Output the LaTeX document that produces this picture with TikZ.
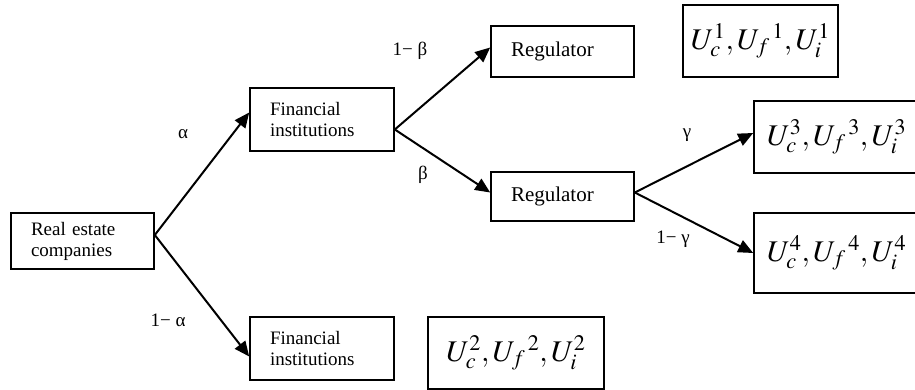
\documentclass[tikz,border=0pt]{standalone}
\usepackage{mathptmx}
\usepackage{fontspec}
\setmainfont{Liberation Serif}
\usetikzlibrary{arrows.meta}
\begin{document}
\begin{tikzpicture}[x=1pt,y=-1pt]
\tikzstyle{box} = [draw, line width=1.6pt, inner ysep=0pt, align=left];
\tikzstyle{player} = [box, inner xsep=20pt, font=\fontsize{19}{21}\selectfont];
\tikzstyle{payoff} = [box, font=\fontsize{30}{34}\selectfont];
\tikzstyle{prob} = [font=\fontsize{19}{22}\selectfont];
\tikzstyle{branch} = [line width=2pt, -{Triangle[length=15pt,width=13pt]}];
\useasboundingbox (0,0) rectangle (915,390);
\clip (0,0) rectangle (915,390);
\node[player, text width=103pt, minimum height=56pt] (re) at (82.5, 241) {Real estate\\companies};
\node[player, text width=104pt, minimum height=63pt] (fi1) at (322, 119.5) {Financial\\institutions};
\node[player, text width=104pt, minimum height=63pt] (fi2) at (322, 348.5) {Financial\\institutions};
\node[player, text width=103pt, minimum height=51pt, font=\fontsize{21}{24}\selectfont] (reg1) at (562.5, 51.5) {Regulator};
\node[player, text width=103pt, minimum height=49pt, font=\fontsize{21}{24}\selectfont] (reg2) at (562.5, 196.5) {Regulator};
\node[payoff, minimum width=155pt, minimum height=72pt] (u1) at (760.5, 41) {$U_{c}^{1},U_{f}{}^{\,1},U_{i}^{1}$};
\node[payoff, minimum width=176pt, minimum height=72pt] (u2) at (516, 353) {$U_{c}^{2},U_{f}{}^{\,2},U_{i}^{2}$};
\node[payoff, minimum width=176pt, minimum height=72pt, text width=150pt] (u3) at (842, 137) {$U_{c}^{3},U_{f}{}^{\,3},U_{i}^{3}$};
\node[payoff, minimum width=176pt, minimum height=80pt, text width=150pt] (u4) at (842, 253) {$U_{c}^{4},U_{f}{}^{\,4},U_{i}^{4}$};
\node[prob] (alpha) at (183, 134) {α};
\node[prob] (nalpha) at (168, 320) {1− α};
\node[prob] (nbeta) at (410, 51) {1− β};
\node[prob] (beta) at (423, 175) {β};
\node[prob] (gamma) at (687, 135) {γ};
\node[prob] (ngamma) at (673, 239) {1− γ};
\draw[branch] ([yshift=6pt]re.east) -- ([yshift=7pt]fi1.west);
\draw[branch] ([yshift=6pt]re.east) -- ([yshift=-8pt]fi2.west);
\draw[branch] ([yshift=-10pt]fi1.east) -- ([yshift=4pt]reg1.west);
\draw[branch] ([yshift=-10pt]fi1.east) -- ([yshift=4pt]reg2.west);
\draw[branch] ([yshift=4pt]reg2.east) -- ([yshift=4pt]u3.west);
\draw[branch] ([yshift=4pt]reg2.east) -- (u4.west);
\end{tikzpicture}
\end{document}
